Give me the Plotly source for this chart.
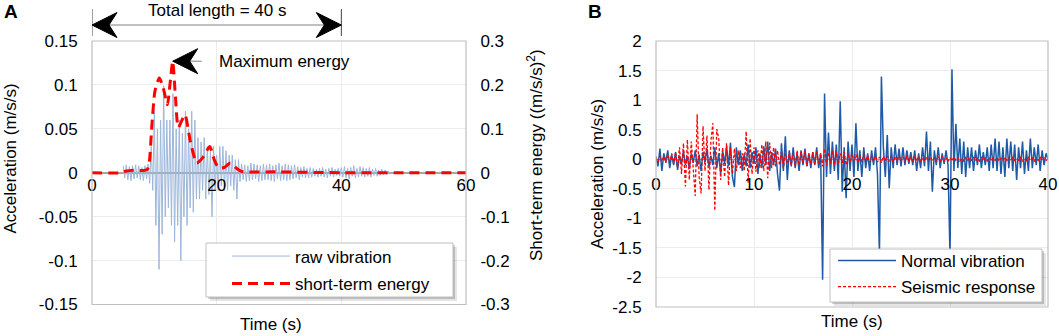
import plotly.graph_objects as go

W, H = 1059, 336
FONT = "Arial, Liberation Sans, sans-serif"

# ---------------- Panel A data ----------------
total_length = 40
raw_start = 5.0
raw_step = 0.25
raw_vibration = [
    0.008, -0.006, 0.009, -0.008, 0.007, -0.009, 0.008, -0.007, 0.009, -0.006, 0.008, -0.008, 0.006, -0.009, 0.008, -0.007,
    0.01, -0.012, 0.03, -0.02,
    0.07, -0.06, 0.05, -0.11,
    0.06, -0.07, 0.099, -0.05,
    0.06, -0.04, 0.06, -0.06,
    0.09, -0.079, 0.05, -0.06,
    0.06, -0.1, 0.045, -0.05,
    0.07, -0.06, 0.05, -0.04,
    0.07, -0.045, 0.06, -0.03,
    0.04, -0.03, 0.035, -0.02,
    0.04, -0.03, 0.03, -0.025,
    0.025, -0.05, 0.03, -0.02,
    0.02, -0.02, 0.03, -0.015,
    0.03, -0.02, 0.025, -0.02,
    0.02, -0.015, 0.02, -0.02,
    0.015, -0.03, 0.015, -0.01,
    0.01, -0.008, 0.009, -0.01, 0.008, -0.009, 0.011, -0.008, 0.01, -0.007, 0.009, -0.01, 0.008, -0.009, 0.01, -0.008,
    0.009, -0.008, 0.01, -0.009, 0.008, -0.01, 0.009, -0.007, 0.011, -0.009, 0.008, -0.008, 0.01, -0.009, 0.009, -0.008,
    0.008, -0.007, 0.009, -0.006, 0.007, -0.008, 0.006, -0.005, 0.007, -0.006, 0.005, -0.006, 0.006, -0.005, 0.005, -0.004,
    0.004, -0.005, 0.005, -0.004, 0.006, -0.005, 0.004, -0.006, 0.005, -0.004, 0.006, -0.005, 0.004, -0.003, 0.005, -0.004,
    0.006, -0.005, 0.007, -0.006, 0.005, -0.007, 0.006, -0.004, 0.008, -0.006, 0.005, -0.005, 0.007, -0.004, 0.006, -0.005,
    0.005, -0.004, 0.006, -0.005, 0.004, -0.003, 0.005, -0.004, 0.003, -0.003, 0.004, -0.002, 0.003, -0.002, 0.002, -0.001,
    0.0,
]
energy_time = [0, 4.5, 5.5, 7, 8.3, 8.9, 9.2, 9.6, 10.1, 10.8, 11.4, 12.1, 12.5, 12.95, 13.4, 13.85,
               14.9, 15.8, 16.8, 17.8, 18.9, 19.6, 20.3, 21.2, 22.2, 23.2, 24.0, 30, 40, 50, 60]
short_term_energy = [0, 0, 0.004, 0.006, 0.005, 0.008, 0.025, 0.106, 0.186, 0.216, 0.195, 0.155, 0.2, 0.254, 0.17, 0.103,
                     0.132, 0.07, 0.022, 0.035, 0.06, 0.03, 0.011, 0.012, 0.022, 0.01, 0.003, 0.002, 0, 0, 0]

a_x_ticks = [0, 20, 40, 60]
a_y_ticks = [0.15, 0.1, 0.05, 0, -0.05, -0.1, -0.15]
a_y2_ticks = [0.3, 0.2, 0.1, 0, -0.1, -0.2, -0.3]

# ---------------- Panel B data ----------------
b_step = 0.2
normal_vibration = [
    0.05, -0.12, 0.18, -0.2, 0.1, -0.05, 0.15, -0.15, 0.08, -0.1,
    0.12, -0.18, 0.06, -0.08, 0.14, -0.1, 0.05, -0.16, 0.1, -0.06,
    0.15, -0.12, 0.08, -0.2, 0.12, -0.05, 0.18, -0.14, 0.06, -0.1,
    0.2, -0.15, 0.1, -0.25, 0.14, -0.08, 0.22, -0.12, 0.28, -0.3,
    -0.47, 0.2, -0.1, 0.15, -0.2, 0.1, -0.12, 0.25, -0.15, 0.12,
    -0.08, 0.2, -0.25, 0.1, -0.15, 0.22, -0.1, 0.3, -0.2, 0.12,
    -0.1, 0.18, -0.25, -0.53, 0.27, -0.2, 0.39, -0.35, 0.15, -0.12,
    0.2, -0.15, 0.1, -0.2, 0.15, -0.1, 0.18, -0.12, 0.1, -0.15,
    0.12, -0.1, 0.2, -0.15, 0.1, -2.04, 1.11, -0.3, 0.45, -0.25,
    0.3, -0.2, 0.25, -0.35, 0.98, -0.55, 0.2, -0.66, 0.3, -0.2,
    0.25, -0.3, 0.61, -0.2, 0.15, -0.3, 0.2, -0.15, 0.1, -0.2,
    0.15, -0.1, 0.2, -0.25, -1.6, 1.4, 0.2, -0.3, 0.41, -0.49,
    0.2, -0.15, 0.25, -0.1, 0.18, -0.12, 0.2, -0.1, 0.15, -0.08,
    0.12, -0.1, 0.15, -0.2, 0.1, -0.15, 0.2, -0.12, 0.47, -0.2,
    0.3, -0.55, 0.15, -0.1, 0.2, -0.15, 0.1, -0.08, 0.15, -0.1,
    -1.65, 1.52, -0.2, 0.6, -0.15, 0.35, -0.25, 0.3, -0.3, 0.2,
    -0.15, 0.2, -0.2, 0.15, -0.1, 0.25, -0.15, 0.12, -0.1, 0.2,
    -0.2, 0.25, -0.15, 0.35, -0.2, 0.3, -0.25, 0.2, -0.3, 0.35,
    -0.15, 0.3, -0.2, 0.25, -0.35, 0.2, -0.15, 0.3, -0.25, 0.15,
    -0.2, 0.35, -0.15, 0.2, -0.1, 0.25, -0.2, 0.15, -0.1, 0.1,
    0.0,
]
seismic_response = [
    0.03, -0.05, 0.06, -0.04, 0.05, -0.06, 0.08, -0.05, 0.1, -0.08,
    0.12, -0.15, 0.2, -0.25, 0.27, -0.46, 0.33, -0.35, 0.3, -0.2,
    -0.62, 0.76, -0.3, -0.58, 0.56, -0.2, 0.4, -0.52, 0.3, 0.61,
    -0.87, 0.51, 0.35, -0.35, 0.2, -0.3, 0.27, -0.44, 0.2, -0.25,
    0.18, -0.2, 0.15, -0.15, 0.1, -0.2, 0.47, -0.4, 0.35, -0.25,
    0.2, -0.21, 0.15, -0.15, 0.25, -0.2, 0.3, -0.32, 0.28, -0.15,
    0.2, -0.12, 0.15, -0.1, 0.12, -0.15, 0.1, -0.08, 0.12, -0.1,
    0.1, -0.12, 0.15, -0.1, 0.12, -0.08, 0.15, -0.12, 0.1, -0.08,
    0.12, -0.1, 0.15, -0.08, 0.1, -0.12, 0.18, -0.1, 0.12, -0.08,
    0.15, -0.1, 0.12, -0.08, 0.1, -0.06, 0.12, -0.1, 0.08, -0.06,
    0.1, -0.05, 0.08, -0.06, 0.06, -0.05, 0.08, -0.04, 0.06, -0.05,
    0.05, -0.04, 0.06, -0.05, 0.04, -0.06, 0.05, -0.03, 0.06, -0.04,
    0.04, -0.05, 0.05, -0.03, 0.06, -0.04, 0.04, -0.05, 0.05, -0.03,
    0.04, -0.04, 0.05, -0.03, 0.04, -0.05, 0.03, -0.04, 0.05, -0.03,
    0.04, -0.03, 0.03, -0.04, 0.04, -0.03, 0.05, -0.03, 0.03, -0.04,
    0.03, -0.03, 0.04, -0.02, 0.03, -0.03, 0.02, -0.03, 0.03, -0.02,
    0.03, -0.02, 0.03, -0.03, 0.02, -0.03, 0.03, -0.02, 0.02, -0.03,
    0.03, -0.03, 0.02, -0.02, 0.03, -0.03, 0.02, -0.02, 0.03, -0.02,
    0.02, -0.03, 0.03, -0.02, 0.02, -0.02, 0.03, -0.03, 0.02, -0.02,
    0.03, -0.02, 0.02, -0.03, 0.02, -0.02, 0.03, -0.02, 0.02, -0.02,
    0.0,
]
b_x_ticks = [0, 10, 20, 30, 40]
b_y_ticks = [2, 1.5, 1, 0.5, 0, -0.5, -1, -1.5, -2, -2.5]

# ---------------- helpers ----------------
def px(x):
    return x / W

def py(y):
    return 1 - y / H

def labels(vals):
    return [f"{v:g}" for v in vals]

raw_time = [raw_start + i * raw_step for i in range(len(raw_vibration))]
b_time = [i * b_step for i in range(len(normal_vibration))]

A_DOM_X = [px(92), px(466)]
A_DOM_Y = [py(304.5), py(41)]
B_DOM_X = [px(656), px(1048)]
B_DOM_Y = [py(307), py(41)]

def zero_pos(dom, lo, hi):
    return dom[0] + (0 - lo) / (hi - lo) * (dom[1] - dom[0])

GRID = "#ececec"
BORDER = "#bfbfbf"
TICKFONT = dict(family=FONT, size=17, color="black")

fig = go.Figure()
fig.add_trace(go.Scatter(x=raw_time, y=raw_vibration, xaxis="x", yaxis="y", mode="lines",
                         line=dict(color="#9db6da", width=1), name="raw vibration", legend="legend"))
fig.add_trace(go.Scatter(x=energy_time, y=short_term_energy, xaxis="x", yaxis="y2", mode="lines",
                         line=dict(color="#ff0000", width=3, dash="10px,6px", shape="spline", smoothing=0.6),
                         name="short-term energy", legend="legend2"))
fig.add_trace(go.Scatter(x=b_time, y=normal_vibration, xaxis="x2", yaxis="y3", mode="lines",
                         line=dict(color="#1f5aa6", width=1.5), name="Normal vibration", legend="legend3"))
fig.add_trace(go.Scatter(x=b_time, y=seismic_response, xaxis="x2", yaxis="y3", mode="lines",
                         line=dict(color="#ff0000", width=1.3, dash="3px,2px"), name="Seismic response",
                         legend="legend4"))

leg_common = dict(bgcolor="rgba(0,0,0,0)", borderwidth=0, font=dict(family=FONT, size=17, color="black"),
                  xanchor="left", yanchor="middle", itemwidth=58)

fig.update_layout(
    width=W, height=H, autosize=False,
    margin=dict(l=0, r=0, t=0, b=0, autoexpand=False),
    paper_bgcolor="white", plot_bgcolor="white",
    font=dict(family=FONT, size=17, color="black"),
    showlegend=True,
    xaxis=dict(domain=A_DOM_X, range=[0, 60], anchor="free", automargin=False,
               position=zero_pos(A_DOM_Y, -0.15, 0.15),
               tickvals=a_x_ticks, ticktext=labels(a_x_ticks), tickfont=TICKFONT,
               showgrid=True, gridcolor=GRID, zeroline=False, showline=False, ticks=""),
    yaxis=dict(domain=A_DOM_Y, range=[-0.15, 0.15], anchor="x", automargin=False,
               tickvals=a_y_ticks, ticktext=labels(a_y_ticks), tickfont=TICKFONT,
               showgrid=True, gridcolor=GRID, zeroline=True, zerolinecolor="#a6a6a6", zerolinewidth=1.5,
               showline=False, ticks="outside", ticklen=10, tickcolor="rgba(0,0,0,0)"),
    yaxis2=dict(domain=A_DOM_Y, range=[-0.3, 0.3], anchor="x", overlaying="y", side="right", automargin=False,
                tickvals=a_y2_ticks, ticktext=labels(a_y2_ticks), tickfont=TICKFONT,
                showgrid=False, zeroline=False, showline=False,
                ticks="outside", ticklen=10, tickcolor="rgba(0,0,0,0)"),
    xaxis2=dict(domain=B_DOM_X, range=[0, 40], anchor="free", automargin=False,
                position=zero_pos(B_DOM_Y, -2.5, 2),
                tickvals=b_x_ticks, ticktext=labels(b_x_ticks), tickfont=TICKFONT,
                showgrid=True, gridcolor=GRID, zeroline=False, showline=False,
                ticks="outside", ticklen=9, tickcolor="rgba(0,0,0,0)"),
    yaxis3=dict(domain=B_DOM_Y, range=[-2.5, 2], anchor="x2", automargin=False,
                tickvals=b_y_ticks, ticktext=labels(b_y_ticks), tickfont=TICKFONT,
                showgrid=True, gridcolor=GRID, zeroline=True, zerolinecolor="#a6a6a6", zerolinewidth=1,
                showline=False, ticks="outside", ticklen=10, tickcolor="rgba(0,0,0,0)"),
    legend=dict(x=px(227), y=py(256.5), **leg_common),
    legend2=dict(x=px(227), y=py(284), **leg_common),
    legend3=dict(x=px(833), y=py(261), **leg_common),
    legend4=dict(x=px(833), y=py(287), **leg_common),
)

shapes = []
# plot borders
for dx, dy in ((A_DOM_X, A_DOM_Y), (B_DOM_X, B_DOM_Y)):
    shapes.append(dict(type="rect", xref="paper", yref="paper", x0=dx[0], x1=dx[1], y0=dy[0], y1=dy[1],
                       line=dict(color=BORDER, width=1.2), fillcolor="rgba(0,0,0,0)", layer="above"))
# legend boxes with shadows
for (x0, y0, x1, y1) in ((206, 243, 453, 297), (830, 249, 1042, 302)):
    shapes.append(dict(type="rect", xref="paper", yref="paper", x0=px(x0 + 4), x1=px(x1 + 4),
                       y0=py(y1 + 4), y1=py(y0 + 4), line=dict(width=0), fillcolor="rgba(0,0,0,0.10)",
                       layer="above"))
    shapes.append(dict(type="rect", xref="paper", yref="paper", x0=px(x0 + 2), x1=px(x1 + 2),
                       y0=py(y1 + 2), y1=py(y0 + 2), line=dict(width=0), fillcolor="rgba(0,0,0,0.18)",
                       layer="above"))
    shapes.append(dict(type="rect", xref="paper", yref="paper", x0=px(x0), x1=px(x1),
                       y0=py(y1), y1=py(y0), line=dict(color=BORDER, width=1), fillcolor="white",
                       layer="above"))

# total-length dimension line
shapes.append(dict(type="line", xref="x", yref="paper", x0=0, x1=total_length, y0=py(25), y1=py(25),
                   line=dict(color="#808080", width=1)))
for xv in (0, total_length):
    shapes.append(dict(type="line", xref="x", yref="paper", x0=xv, x1=xv, y0=py(9), y1=py(36),
                       line=dict(color="#404040", width=1)))

# stealth-style arrowheads, sized in pixels and anchored in data coordinates
HEAD_LEFT = "M0,0 L25,12.5 L17,0 L25,-12.5 Z"
HEAD_RIGHT = "M0,0 L-25,12.5 L-17,0 L-25,-12.5 Z"

def head(path, xa, ya, xref, yref):
    return dict(type="path", path=path, xref=xref, yref=yref, xsizemode="pixel", ysizemode="pixel",
                xanchor=xa, yanchor=ya, fillcolor="black", line=dict(color="black", width=1), layer="above")

shapes.append(head(HEAD_LEFT, 0, py(25), "x", "paper"))
shapes.append(head(HEAD_RIGHT, total_length, py(25), "x", "paper"))

# maximum energy pointer
imax = max(range(len(short_term_energy)), key=lambda i: short_term_energy[i])
t_peak, e_peak = energy_time[imax], short_term_energy[imax]
shapes.append(dict(type="line", xref="x", yref="y2", xsizemode="pixel", xanchor=t_peak, x0=0, x1=29,
                   y0=e_peak, y1=e_peak, line=dict(color="#808080", width=1)))
shapes.append(head(HEAD_LEFT, t_peak, e_peak, "x", "y2"))
fig.update_layout(shapes=shapes)

ann = []
ann.append(dict(x=total_length / 2, y=py(10), xref="x", yref="paper", text=f"Total length = {total_length} s",
                showarrow=False, xanchor="center", yanchor="middle", font=dict(size=17)))
ann.append(dict(x=px(217), y=e_peak, xref="paper", yref="y2", text="Maximum energy",
                showarrow=False, xanchor="left", yanchor="middle", font=dict(size=17)))
ann.append(dict(x=px(2), y=py(12), xref="paper", yref="paper", text="<b>A</b>", showarrow=False,
                xanchor="left", yanchor="middle", font=dict(size=19)))
ann.append(dict(x=px(595), y=py(11.5), xref="paper", yref="paper", text="<b>B</b>", showarrow=False,
                xanchor="center", yanchor="middle", font=dict(size=19)))
ann.append(dict(x=px(10), y=py(158.5), xref="paper", yref="paper", text="Acceleration (m/s/s)",
                showarrow=False, textangle=-90, xanchor="center", yanchor="middle", font=dict(size=17)))
ann.append(dict(x=px(535), y=py(155), xref="paper", yref="paper", text="Short-term energy ((m/s/s)<sup>2</sup>)",
                showarrow=False, textangle=-90, xanchor="center", yanchor="middle", font=dict(size=17)))
ann.append(dict(x=px(597), y=py(174), xref="paper", yref="paper", text="Acceleration (m/s/s)",
                showarrow=False, textangle=-90, xanchor="center", yanchor="middle", font=dict(size=17)))
ann.append(dict(x=px(271), y=py(324), xref="paper", yref="paper", text="Time (s)",
                showarrow=False, xanchor="center", yanchor="middle", font=dict(size=17)))
ann.append(dict(x=px(852), y=py(321), xref="paper", yref="paper", text="Time (s)",
                showarrow=False, xanchor="center", yanchor="middle", font=dict(size=17)))
fig.update_layout(annotations=ann)

fig.write_html("out.html", config={"displayModeBar": False},
               post_script="document.body.style.margin='0px';")
